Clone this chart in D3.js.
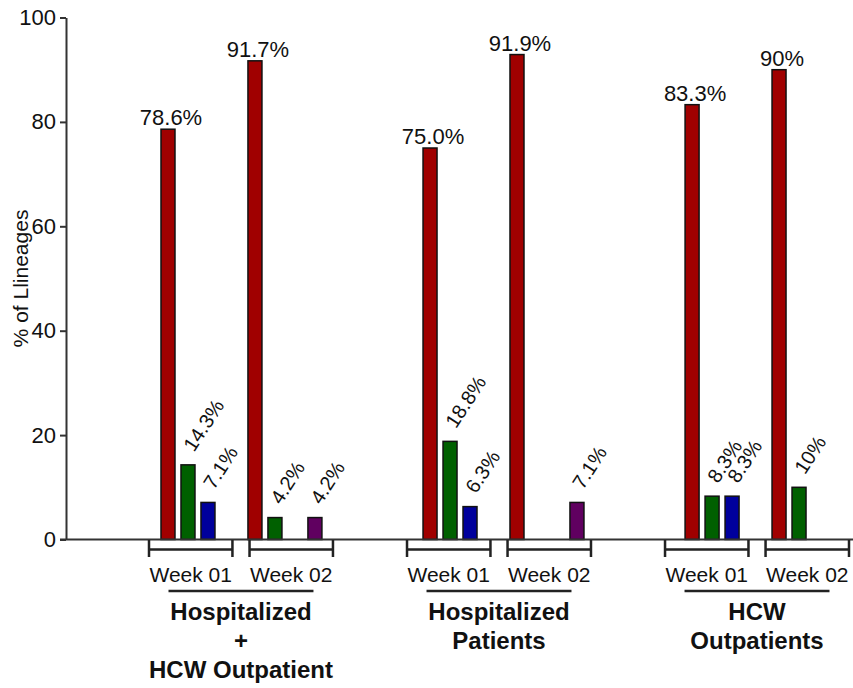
<!DOCTYPE html>
<html>
<head>
<meta charset="utf-8">
<script src="https://cdn.jsdelivr.net/npm/d3@7"></script>
<style>
  body { margin: 0; background: #fff; }
  text { font-family: "Liberation Sans", Arial, sans-serif; fill: #111; }
</style>
</head>
<body>
<div id="chart"></div>
<script>
var svgWidth = 853;
var svgHeight = 688;

var groups = ["Hospitalized + HCW Outpatient", "Hospitalized Patients", "HCW Outpatients"];
var groupLines = [["Hospitalized", "+", "HCW Outpatient"], ["Hospitalized", "Patients"], ["HCW", "Outpatients"]];
var weeks = ["Week 01", "Week 02"];
var series = ["red", "green", "blue", "purple"];
var seriesColors = ["#a00000", "#006000", "#00009c", "#600060"];

// one entry per group/week: G1W1, G1W2, G2W1, G2W2, G3W1, G3W2
var redValues = [78.6, 91.7, 75.0, 92.9, 83.3, 90];
var greenValues = [14.3, 4.2, 18.8, null, 8.3, 10];
var blueValues = [7.1, null, 6.3, null, 8.3, null];
var purpleValues = [null, 4.2, null, 7.1, null, null];

var redLabels = ["78.6%", "91.7%", "75.0%", "91.9%", "83.3%", "90%"];
var greenLabels = ["14.3%", "4.2%", "18.8%", null, "8.3%", "10%"];
var blueLabels = ["7.1%", null, "6.3%", null, "8.3%", null];
var purpleLabels = [null, "4.2%", null, "7.1%", null, null];

var yTicks = [0, 20, 40, 60, 80, 100];

var allValues = [redValues, greenValues, blueValues, purpleValues];
var allLabels = [redLabels, greenLabels, blueLabels, purpleLabels];

var svg = d3.select("#chart")
  .append("svg")
  .attr("width", svgWidth)
  .attr("height", svgHeight);

svg.append("rect")
  .attr("width", svgWidth)
  .attr("height", svgHeight)
  .attr("fill", "#fff");

var y = d3.scaleLinear().domain([0, 100]).range([539.5, 17.5]);

// bar positions
var groupX = d3.scaleBand().domain(groups).range([158, 849]).paddingInner(0.363);
var weekX = d3.scaleBand().domain(weeks).range([0, groupX.bandwidth()]).paddingInner(0.0805);
var seriesX = d3.scaleBand().domain(series).range([0, weekX.bandwidth()])
  .paddingInner(0.3).paddingOuter(0.15);

// bracket positions (drawn a bit apart from the bars)
var bracketGroupX = d3.scaleBand().domain(groups).range([149, 849]).paddingInner(0.287);
var bracketWeekX = d3.scaleBand().domain(weeks).range([0, bracketGroupX.bandwidth()]).paddingInner(0.17);

var bars = [];
groups.forEach(function(g, gi) {
  weeks.forEach(function(w, wi) {
    series.forEach(function(s, si) {
      var v = allValues[si][gi * 2 + wi];
      if (v == null) return;
      bars.push({
        group: g, week: w, series: s, value: v,
        color: seriesColors[si],
        label: allLabels[si][gi * 2 + wi]
      });
    });
  });
});

function barX(d) {
  return groupX(d.group) + weekX(d.week) + seriesX(d.series);
}

// y axis
var yAxis = svg.append("g")
  .attr("transform", "translate(66,0)")
  .call(d3.axisLeft(y).tickValues(yTicks).tickSize(6).tickSizeOuter(0).tickPadding(4));

yAxis.select(".domain").attr("stroke", "#333").attr("stroke-width", 2);
yAxis.selectAll(".tick line").attr("stroke", "#333").attr("stroke-width", 2);
yAxis.selectAll(".tick text")
  .attr("font-size", 22)
  .attr("font-family", "Liberation Sans, Arial, sans-serif")
  .attr("fill", "#111");

svg.append("text")
  .attr("transform", "translate(28," + y(50) + ") rotate(-90)")
  .attr("text-anchor", "middle")
  .attr("font-size", 21)
  .text("% of Llineages");

// bars
svg.append("g")
  .selectAll("rect")
  .data(bars)
  .enter()
  .append("rect")
  .attr("x", barX)
  .attr("y", function(d) { return y(d.value); })
  .attr("width", seriesX.bandwidth())
  .attr("height", function(d) { return y(0) - y(d.value); })
  .attr("fill", function(d) { return d.color; })
  .attr("stroke", "#111")
  .attr("stroke-width", 1.5);

// x axis line
svg.append("line")
  .attr("x1", 60)
  .attr("x2", svgWidth)
  .attr("y1", y(0))
  .attr("y2", y(0))
  .attr("stroke", "#333")
  .attr("stroke-width", 2);

// value labels
var labels = svg.append("g").selectAll("text")
  .data(bars)
  .enter()
  .append("text")
  .text(function(d) { return d.label; });

labels.filter(function(d) { return d.value >= 50; })
  .attr("x", function(d) { return barX(d) + seriesX.bandwidth() / 2 + 3; })
  .attr("y", function(d) { return y(d.value) - 4; })
  .attr("text-anchor", "middle")
  .attr("font-size", 22);

labels.filter(function(d) { return d.value < 50; })
  .attr("transform", function(d) {
    var cx = barX(d) + seriesX.bandwidth() / 2;
    return "translate(" + (cx + 6) + "," + (y(d.value) - 12) + ") rotate(-57)";
  })
  .attr("text-anchor", "start")
  .attr("font-size", 20);

// week brackets
var weekRows = [];
groups.forEach(function(g) {
  weeks.forEach(function(w) { weekRows.push({ group: g, week: w }); });
});

var brackets = svg.append("g").selectAll("g")
  .data(weekRows)
  .enter()
  .append("g");

brackets.append("path")
  .attr("d", function(d) {
    var x0 = bracketGroupX(d.group) + bracketWeekX(d.week);
    var x1 = x0 + bracketWeekX.bandwidth();
    return "M" + x0 + ",540V557M" + x0 + ",549.5H" + x1 + "M" + x1 + ",540V557";
  })
  .attr("fill", "none")
  .attr("stroke", "#222")
  .attr("stroke-width", 2.5);

brackets.append("text")
  .attr("x", function(d) {
    return bracketGroupX(d.group) + bracketWeekX(d.week) + bracketWeekX.bandwidth() / 2;
  })
  .attr("y", 582)
  .attr("text-anchor", "middle")
  .attr("font-size", 21)
  .text(function(d) { return d.week; });

// group underline + labels
var groupG = svg.append("g").selectAll("g")
  .data(groups)
  .enter()
  .append("g");

groupG.append("line")
  .attr("x1", function(g) { return bracketGroupX(g) + bracketGroupX.bandwidth() * 0.106; })
  .attr("x2", function(g) { return bracketGroupX(g) + bracketGroupX.bandwidth() * 0.894; })
  .attr("y1", 591)
  .attr("y2", 591)
  .attr("stroke", "#222")
  .attr("stroke-width", 2.5);

groupG.append("text")
  .attr("text-anchor", "middle")
  .attr("font-size", 24)
  .attr("font-weight", "bold")
  .each(function(g, i) {
    var cx = bracketGroupX(g) + bracketGroupX.bandwidth() / 2;
    d3.select(this).selectAll("tspan")
      .data(groupLines[i])
      .enter()
      .append("tspan")
      .attr("x", cx)
      .attr("y", function(line, j) { return 620 + j * 29; })
      .text(function(line) { return line; });
  });
</script>
</body>
</html>
